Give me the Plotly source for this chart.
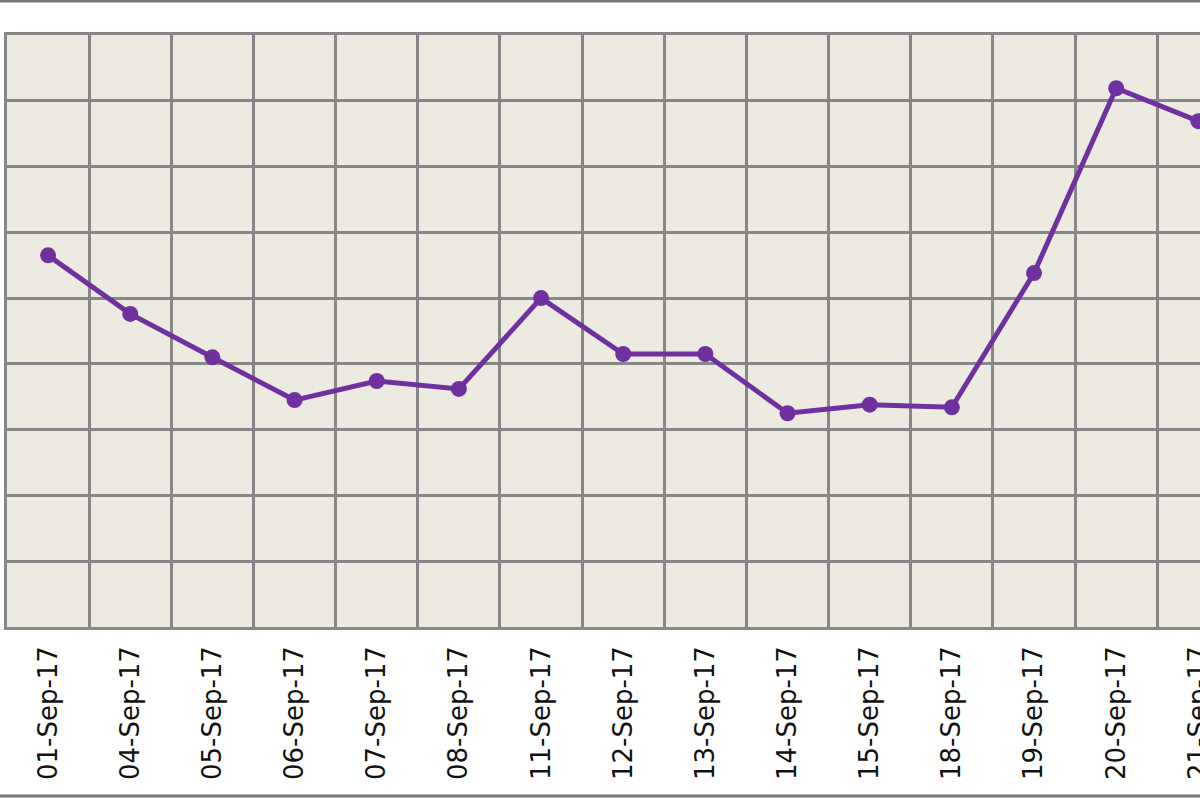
import plotly.graph_objects as go

# Dates shown on the category axis
dates = ["01-Sep-17", "04-Sep-17", "05-Sep-17", "06-Sep-17", "07-Sep-17",
         "08-Sep-17", "11-Sep-17", "12-Sep-17", "13-Sep-17", "14-Sep-17",
         "15-Sep-17", "18-Sep-17", "19-Sep-17", "20-Sep-17", "21-Sep-17"]

# Values (y axis labels are cropped, scale 0-90)
values = [56.5, 47.6, 41.0, 34.5, 37.4, 36.2, 50.0, 41.5, 41.5, 32.5,
          33.8, 33.4, 53.8, 81.9, 76.9]

PURPLE = "#7030A0"
GRID = "#878787"
PLOT_BG = "#EDEBE1"

fig = go.Figure()

fig.add_trace(go.Scatter(
    x=dates,
    y=values,
    mode="lines+markers",
    line=dict(color=PURPLE, width=5),
    marker=dict(color=PURPLE, size=16),
    cliponaxis=False,
    hovertemplate="%{x}<br>%{y}<extra></extra>",
))

fig.update_layout(
    width=1200,
    height=800,
    margin=dict(l=7, r=0, t=35, b=173, autoexpand=False),
    paper_bgcolor="white",
    plot_bgcolor=PLOT_BG,
    showlegend=False,
    font=dict(family="DejaVu Sans", color="#111111"),
    xaxis=dict(
        type="category",
        range=[-0.5, 14.02],
        automargin=False,
        tickson="boundaries",
        showgrid=True,
        gridcolor=GRID,
        gridwidth=2.5,
        tickangle=-90,
        ticks="",
        ticklabelstandoff=6,
        tickfont=dict(size=26, family="DejaVu Sans", color="#111111"),
        showline=True,
        linecolor=GRID,
        linewidth=2.5,
        mirror=True,
        zeroline=False,
    ),
    yaxis=dict(
        range=[0, 90],
        dtick=10,
        automargin=False,
        showgrid=True,
        gridcolor=GRID,
        gridwidth=2.5,
        showticklabels=False,
        ticks="",
        showline=True,
        linecolor=GRID,
        linewidth=2.5,
        mirror=True,
        zeroline=False,
    ),
    shapes=[
        # outer frame lines at top and bottom of the picture
        dict(type="line", xref="paper", yref="paper", x0=-0.01, x1=1.01,
             y0=1.0574, y1=1.0574, line=dict(color="#777777", width=3)),
        dict(type="line", xref="paper", yref="paper", x0=-0.01, x1=1.01,
             y0=-0.2855, y1=-0.2855, line=dict(color="#777777", width=3)),
    ],
)

fig.write_html("out.html", config={"displayModeBar": False},
               post_script="document.body.style.margin='0';")
